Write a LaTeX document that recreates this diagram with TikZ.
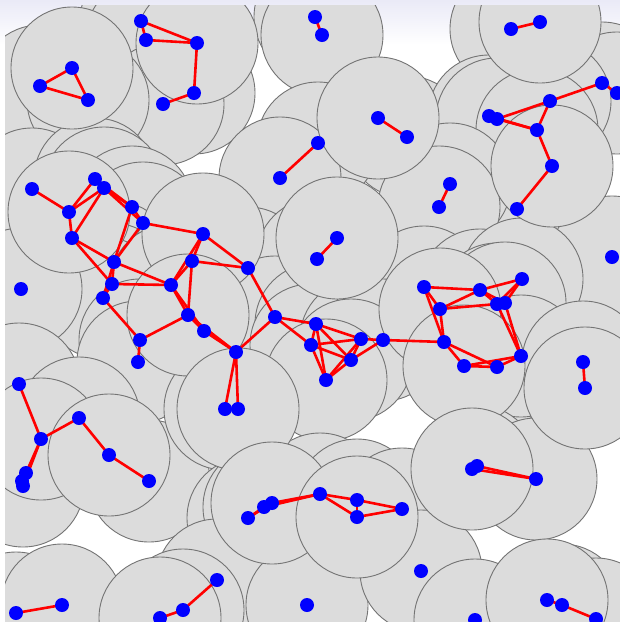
\documentclass[tikz,border=0pt]{standalone}
\usetikzlibrary{calc}
\definecolor{diskfill}{HTML}{DCDCDC}
\definecolor{diskline}{HTML}{747474}
\definecolor{topshade}{HTML}{EAEAF7}

\begin{document}
\begin{tikzpicture}[x=1pt, y=-1pt,
    disk/.style={fill=diskfill, draw=diskline, line width=0.9pt},
    link/.style={draw=red, line width=2.6pt, line cap=round},
    sensor/.style={fill=blue}]
    \def\r{61}
    \useasboundingbox (0,0) rectangle (620,622);
    \shade[top color=topshade, bottom color=white] (0,0) rectangle (620,45);
    \begin{scope}
    \clip (5,5) rectangle (620,622);
    % sensor positions
    \foreach \n/\x/\y in {1/141/21, 2/146/40, 3/197/43, 4/194/93, 5/163/104,
        6/72/68, 7/40/86, 8/88/100, 9/315/17, 10/322/35, 11/378/118,
        12/407/137, 13/318/143, 14/280/178, 15/511/29, 16/540/22, 17/602/83,
        18/617/93, 19/550/101, 20/489/116, 21/497/119, 22/537/130,
        23/552/166, 24/517/209, 25/450/184, 26/439/207, 27/32/189,
        28/95/179, 29/104/188, 30/69/212, 31/72/238, 32/132/207,
        33/143/223, 34/203/234, 35/114/262, 36/112/284, 37/103/298,
        38/21/289, 39/192/261, 40/171/285, 41/188/315, 42/248/268,
        43/337/238, 44/317/259, 45/612/257, 46/424/287, 47/480/290,
        48/522/279, 49/440/309, 50/497/304, 51/505/303, 52/444/342,
        53/464/366, 54/497/367, 55/521/356, 56/583/362, 57/585/388,
        58/204/331, 59/140/340, 60/138/362, 61/19/384, 62/79/418,
        63/41/439, 64/109/455, 65/26/473, 66/22/481, 67/23/486,
        68/149/481, 69/236/352, 70/275/317, 71/316/324, 72/311/345,
        73/361/339, 74/383/340, 75/351/360, 76/326/380, 77/225/409,
        78/238/409, 79/248/518, 80/264/507, 81/272/503, 82/320/494,
        83/357/500, 84/357/517, 85/402/509, 86/217/580, 87/307/605,
        88/472/469, 89/477/466, 90/536/479, 91/421/571, 92/547/600,
        93/562/605, 94/596/619, 95/475/620, 96/16/613, 97/62/605,
        98/160/618, 99/183/610}
        \coordinate (v\n) at (\x,\y);
    % coverage disks, the ones seen whole come last
    \foreach \n in {1,2,4,5,7,8,9,10,12,13,14,15,17,18,19,20,21,22,24,25,
        26,27,28,29,31,32,33,35,36,37,38,39,40,42,44,45,46,47,48,50,51,52,
        54,55,56,58,59,60,61,62,65,66,67,68,69,70,71,72,73,74,75,76,77,79,
        80,82,83,85,86,87,89,90,91,93,94,95,96,97,99,
        3,6,11,16,23,30,34,41,43,49,53,57,63,64,78,81,84,88,92,98}
        \draw[disk] (v\n) circle[radius=\r];
    % links
    \foreach \a/\b in {1/2, 1/3, 2/3, 3/4, 4/5, 6/7, 6/8, 7/8, 9/10, 11/12,
        13/14, 15/16, 17/18, 17/19, 19/21, 19/22, 20/21, 20/22, 21/22,
        22/23, 23/24, 25/26, 27/30, 28/29, 28/30, 29/30, 29/31, 30/31,
        28/32, 29/32, 29/33, 32/33, 33/34, 32/35, 33/35, 31/35, 31/36,
        35/36, 35/37, 36/37, 35/40, 36/40, 34/39, 34/40, 39/40, 39/41,
        40/41, 40/58, 39/42, 34/42, 37/59, 59/60, 41/59, 41/58, 41/69,
        58/69, 69/70, 69/77, 69/78, 42/70, 43/44, 70/71, 70/72, 71/72,
        71/73, 71/75, 71/76, 72/73, 72/75, 72/76, 73/74, 73/75, 73/76,
        74/75, 75/76, 74/52, 46/47, 47/48, 46/49, 47/49, 49/50, 47/50,
        47/51, 48/50, 48/51, 50/51, 46/52, 49/52, 52/53, 52/54, 53/54,
        53/55, 54/55, 50/55, 51/55, 56/57, 61/63, 62/63, 62/64, 63/65,
        63/67, 64/68, 65/66, 65/67, 66/67, 79/80, 80/81, 79/81, 80/82,
        81/82, 82/83, 82/84, 83/84, 83/85, 84/85, 86/99, 98/99, 96/97,
        88/89, 88/90, 89/90, 92/93, 93/94}
        \draw[link] (v\a) -- (v\b);
    % sensors
    \foreach \n in {1,...,99}
        \fill[sensor] (v\n) circle[radius=7];
    \end{scope}
\end{tikzpicture}
\end{document}
